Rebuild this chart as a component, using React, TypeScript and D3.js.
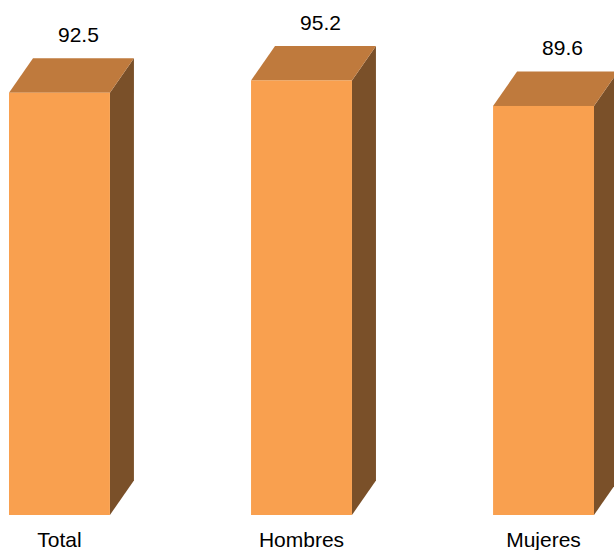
import React from "react";
import * as d3 from "d3";

const categories = ["Total", "Hombres", "Mujeres"];
const values = [92.5, 95.2, 89.6];
const valueLabels = ["92.5", "95.2", "89.6"];

const W = 614;
const H = 550;
const DX = 24;
const DY = 34.5;
const FRONT = "#F9A04F";
const TOP = "#BF7A3D";
const SIDE = "#7A5029";

export default function App() {
  const x = d3
    .scaleBand<string>()
    .domain(categories)
    .range([9, 594])
    .paddingInner(0.583)
    .paddingOuter(0);
  const y = d3.scaleLinear().domain([0, 100]).range([515, 58.5]);
  const bw = x.bandwidth();
  const font = "'Liberation Sans', Arial, sans-serif";
  return (
    <svg
      width={W}
      height={H}
      style={{ position: "absolute", left: 0, top: 0, display: "block" }}
    >
      <rect width={W} height={H} fill="#fff" />
      {categories.map((c, i) => {
        const x0 = x(c)!;
        const x1 = x0 + bw;
        const yt = y(values[i]);
        const yb = y(0);
        const side = d3.path();
        side.moveTo(x1, yt);
        side.lineTo(x1 + DX, yt - DY);
        side.lineTo(x1 + DX, yb - DY);
        side.lineTo(x1, yb);
        side.closePath();
        const top = d3.path();
        top.moveTo(x0, yt);
        top.lineTo(x0 + DX, yt - DY);
        top.lineTo(x1 + DX, yt - DY);
        top.lineTo(x1, yt);
        top.closePath();
        return (
          <g key={c}>
            <path d={side.toString()} fill={SIDE} />
            <path d={top.toString()} fill={TOP} />
            <rect x={x0} y={yt} width={bw} height={yb - yt} fill={FRONT} />
            <text
              x={x0 + bw / 2 + 19}
              y={yt - DY - 16}
              textAnchor="middle"
              fontFamily={font}
              fontSize={21}
              fill="#000"
            >
              {valueLabels[i]}
            </text>
            <text
              x={x0 + bw / 2}
              y={547}
              textAnchor="middle"
              fontFamily={font}
              fontSize={21}
              fill="#000"
            >
              {c}
            </text>
          </g>
        );
      })}
    </svg>
  );
}
